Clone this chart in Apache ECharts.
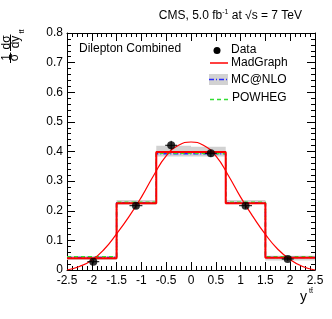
<!DOCTYPE html>
<html><head><meta charset="utf-8">
<script src="https://cdn.jsdelivr.net/npm/echarts@6/dist/echarts.min.js"></script>
<style>html,body{margin:0;padding:0;background:#fff}#c{width:332px;height:319px}</style>
</head><body><div id="c"></div>
<script>
var binEdges = [-2.5, -1.5, -0.7, 0, 0.7, 1.5, 2.5];
var madgraphHist = [0.040, 0.225, 0.398, 0.398, 0.225, 0.041];
var mcatnloHist = [0.042, 0.227, 0.392, 0.392, 0.227, 0.042];
var powhegHist = [0.045, 0.229, 0.394, 0.393, 0.229, 0.045];
var mcatnloBandLo = [0.034, 0.220, 0.383, 0.383, 0.222, 0.032];
var mcatnloBandHi = [0.047, 0.236, 0.419, 0.416, 0.236, 0.048];
var dataX = [-1.97, -1.11, -0.40, 0.40, 1.10, 1.95];
var dataY = [0.028, 0.217, 0.421, 0.394, 0.217, 0.037];
var dataErrY = [0.006, 0.010, 0.015, 0.012, 0.010, 0.006];
var dataErrX = [0.12, 0.13, 0.12, 0.12, 0.13, 0.12];
var curveX = [-2.5, -2.25, -2.0, -1.75, -1.5, -1.25, -1.0, -0.75, -0.5, -0.25, 0, 0.25, 0.5, 0.75, 1.0, 1.25, 1.5, 1.75, 2.0, 2.25, 2.5];
var curveY = [0.0, 0.012, 0.033, 0.070, 0.122, 0.180, 0.246, 0.320, 0.385, 0.421, 0.432, 0.421, 0.385, 0.320, 0.246, 0.180, 0.120, 0.070, 0.035, 0.012, 0.0];
var xTicks = [-2.5, 2.5, 0.5];
var yTicks = [0, 0.8, 0.1];

var FONT = 'Liberation Sans, Arial, sans-serif';
function stepData(vals) {
  var d = [];
  for (var i = 0; i < vals.length; i++) d.push([binEdges[i], vals[i]]);
  d.push([binEdges[vals.length], vals[vals.length - 1]]);
  return d;
}
var bandData = [];
for (var i = 0; i < mcatnloBandLo.length; i++) bandData.push([binEdges[i], binEdges[i + 1], mcatnloBandLo[i], mcatnloBandHi[i]]);
var pts = [], errData = [], curve = [];
for (var i = 0; i < dataX.length; i++) { pts.push([dataX[i], dataY[i]]); errData.push([dataX[i], dataY[i], dataErrX[i], dataErrY[i]]); }
for (var i = 0; i < curveX.length; i++) curve.push([curveX[i], curveY[i]]);

var chart = echarts.init(document.getElementById('c'));
var axisCommon = {
  type: 'value',
  axisLine: { show: true, onZero: false, lineStyle: { color: '#000', width: 1 } },
  axisTick: { show: true, inside: true, length: 8, lineStyle: { color: '#000' } },
  minorTick: { show: true, splitNumber: 5, length: 4, lineStyle: { color: '#000' } },
  splitLine: { show: false }
};
function ax(extra) { return Object.assign({}, JSON.parse(JSON.stringify(axisCommon)), extra); }
chart.setOption({
  animation: false,
  backgroundColor: '#fff',
  grid: { left: 67, right: 17, top: 33, bottom: 49, containLabel: false },
  xAxis: [
    ax({ min: xTicks[0], max: xTicks[1], interval: xTicks[2], position: 'bottom',
      axisLabel: { show: true, color: '#000', fontFamily: FONT, fontSize: 12, margin: 5 } }),
    ax({ min: xTicks[0], max: xTicks[1], interval: xTicks[2], position: 'top', axisLabel: { show: false } })
  ],
  yAxis: [
    ax({ min: yTicks[0], max: yTicks[1], interval: yTicks[2], position: 'left',
      axisLabel: { show: true, color: '#000', fontFamily: FONT, fontSize: 12, margin: 4,
        formatter: function (v) { return v === 0 ? '0' : v.toFixed(1); } } }),
    ax({ min: yTicks[0], max: yTicks[1], interval: yTicks[2], position: 'right', axisLabel: { show: false } })
  ],
  series: [
    { type: 'custom', name: 'MC@NLO band', data: bandData, z: 1,
      renderItem: function (params, api) {
        var p1 = api.coord([api.value(0), api.value(3)]);
        var p2 = api.coord([api.value(1), api.value(2)]);
        return { type: 'rect', shape: { x: p1[0], y: p1[1], width: p2[0] - p1[0], height: p2[1] - p1[1] },
          style: { fill: '#d2d2d2' } };
      } },
    { type: 'line', name: 'MC@NLO', step: 'end', data: stepData(mcatnloHist), symbol: 'none', z: 3,
      lineStyle: { color: '#2222ff', width: 1.5, type: [5, 2, 1, 2] } },
    { type: 'line', name: 'POWHEG', step: 'end', data: stepData(powhegHist), symbol: 'none', z: 3,
      lineStyle: { color: '#33dd33', width: 1.5, type: [4, 3] } },
    { type: 'line', name: 'MadGraph', step: 'end', data: stepData(madgraphHist), symbol: 'none', z: 4,
      lineStyle: { color: '#ff0000', width: 2 } },
    { type: 'line', name: 'MadGraph fit', smooth: true, data: curve, symbol: 'none', z: 5,
      lineStyle: { color: '#ff0000', width: 1.2 } },
    { type: 'custom', name: 'Data errors', data: errData, z: 6,
      renderItem: function (params, api) {
        var x = api.value(0), y = api.value(1), ex = api.value(2), ey = api.value(3);
        var a = api.coord([x - ex, y]), b = api.coord([x + ex, y]);
        var c = api.coord([x, y - ey]), d = api.coord([x, y + ey]);
        return { type: 'group', children: [
          { type: 'line', shape: { x1: a[0], y1: a[1], x2: b[0], y2: b[1] }, style: { stroke: '#000', lineWidth: 1 } },
          { type: 'line', shape: { x1: c[0], y1: c[1], x2: d[0], y2: d[1] }, style: { stroke: '#000', lineWidth: 1 } }
        ] };
      } },
    { type: 'scatter', name: 'Data', data: pts, symbol: 'circle', symbolSize: 8, z: 7,
      itemStyle: { color: '#000' } }
  ],
  graphic: [
    { type: 'text', x: 302, y: 16, style: { text: 'CMS, 5.0 fb{s|-1} at √s = 7 TeV', align: 'right', verticalAlign: 'middle',
      font: '12px ' + FONT, fill: '#000', rich: { s: { fontSize: 7, fontFamily: FONT, verticalAlign: 'top', padding: [0, 0, 8, 0] } } } },
    { type: 'text', x: 79, y: 49, style: { text: 'Dilepton Combined', verticalAlign: 'middle', font: '12px ' + FONT, fill: '#000' } },
    // legend
    { type: 'circle', shape: { cx: 217, cy: 50.5, r: 3.5 }, style: { fill: '#000' } },
    { type: 'text', x: 231, y: 50, style: { text: 'Data', verticalAlign: 'middle', font: '12px ' + FONT, fill: '#000' } },
    { type: 'line', shape: { x1: 210, y1: 63, x2: 228, y2: 63 }, style: { stroke: '#ff0000', lineWidth: 1.5 } },
    { type: 'text', x: 231, y: 63, style: { text: 'MadGraph', verticalAlign: 'middle', font: '12px ' + FONT, fill: '#000' } },
    { type: 'rect', z: 1, shape: { x: 209, y: 74, width: 19, height: 11 }, style: { fill: '#d2d2d2' } },
    { type: 'line', z: 2, shape: { x1: 209, y1: 79.5, x2: 228, y2: 79.5 }, style: { stroke: '#2a2aff', lineWidth: 1.5, lineDash: [5, 2, 1, 2] } },
    { type: 'text', x: 231, y: 80, style: { text: 'MC@NLO', verticalAlign: 'middle', font: '12px ' + FONT, fill: '#000' } },
    { type: 'line', shape: { x1: 210, y1: 99.5, x2: 228, y2: 99.5 }, style: { stroke: '#33dd33', lineWidth: 1.5, lineDash: [4, 3] } },
    { type: 'text', x: 232, y: 98, style: { text: 'POWHEG', verticalAlign: 'middle', font: '12px ' + FONT, fill: '#000' } },
    // y-axis title (rotated fraction)
    { type: 'text', x: 7, y: 57.5, rotation: Math.PI / 2, style: { text: '1', align: 'center', verticalAlign: 'middle', font: '12px ' + FONT, fill: '#000' } },
    { type: 'line', shape: { x1: 10.5, y1: 52.5, x2: 10.5, y2: 63 }, style: { stroke: '#000', lineWidth: 1 } },
    { type: 'text', x: 15, y: 57.5, rotation: Math.PI / 2, style: { text: 'σ', align: 'center', verticalAlign: 'middle', font: '12px ' + FONT, fill: '#000' } },
    { type: 'text', x: 6.5, y: 42.5, rotation: Math.PI / 2, style: { text: 'dσ', align: 'center', verticalAlign: 'middle', font: '12px ' + FONT, fill: '#000' } },
    { type: 'line', shape: { x1: 10.5, y1: 34.5, x2: 10.5, y2: 51 }, style: { stroke: '#000', lineWidth: 1 } },
    { type: 'text', x: 16, y: 42, rotation: Math.PI / 2, style: { text: 'dy', align: 'center', verticalAlign: 'middle', font: '12px ' + FONT, fill: '#000' } },
    { type: 'text', x: 22.5, y: 31.5, rotation: Math.PI / 2, style: { text: 'tt\u0304', align: 'center', verticalAlign: 'middle', font: '7px ' + FONT, fill: '#000' } },
    // x-axis title
    { type: 'text', x: 303.5, y: 297, style: { text: 'y', align: 'center', verticalAlign: 'middle', font: '14px ' + FONT, fill: '#000' } },
    { type: 'text', x: 311, y: 291, style: { text: 'tt\u0304', align: 'center', verticalAlign: 'middle', font: '7px ' + FONT, fill: '#000' } }
  ]
});
</script></body></html>
